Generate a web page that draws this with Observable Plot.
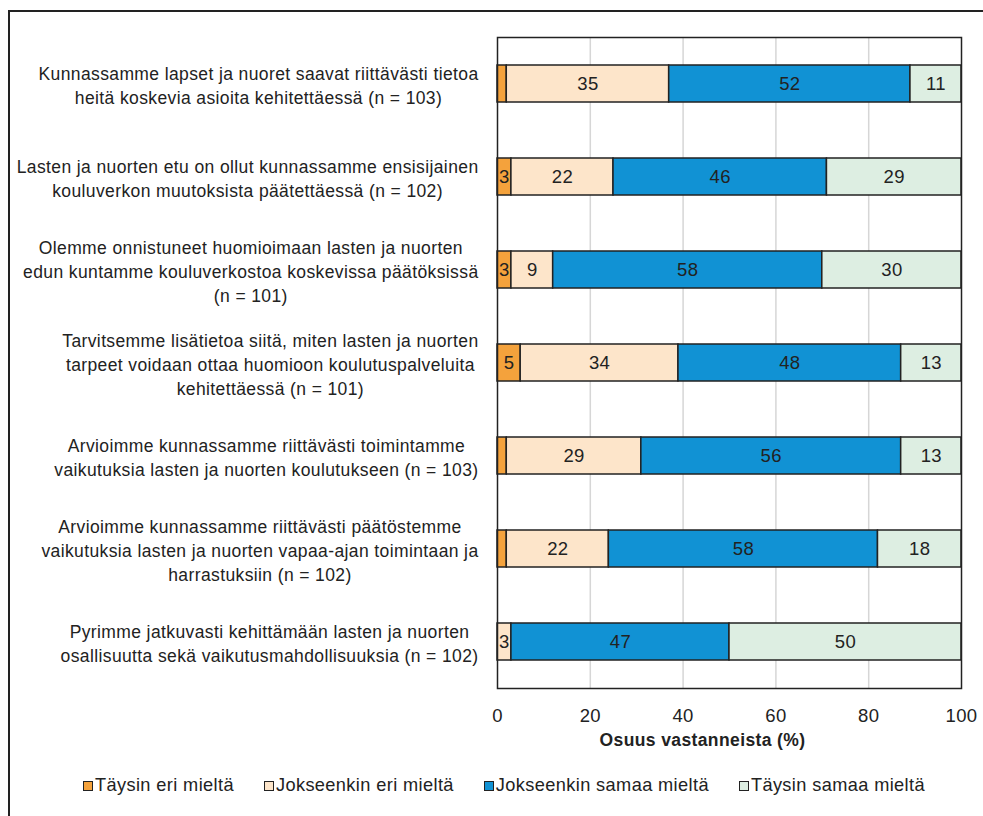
<!DOCTYPE html>
<html>
<head>
<meta charset="utf-8">
<script src="https://cdn.jsdelivr.net/npm/d3@7"></script>
<script src="https://cdn.jsdelivr.net/npm/@observablehq/plot@0.6"></script>
<style>
  html, body { margin: 0; padding: 0; background: #fff; }
  body { width: 983px; height: 816px; position: relative; overflow: hidden;
         font-family: "Liberation Sans", Arial, sans-serif; color: #222; }
  #frame { position: absolute; left: 8px; top: 10px; width: 990px; height: 820px;
           border-left: 2px solid #222; border-top: 2px solid #222; box-sizing: border-box; }
  #chart { position: absolute; left: 0; top: 0; }
  #legend { position: absolute; left: 0; top: 775px; width: 983px; display: flex; justify-content: center;
            padding-left: 25px; box-sizing: border-box; gap: 30px; }
  .item { display: flex; align-items: center; gap: 2px; }
  .sw { width: 8px; height: 8px; border: 1.5px solid #222; }
</style>
</head>
<body>
<div id="frame"></div>
<div id="chart"></div>
<div id="legend"></div>
<script>
const categories = [
  "Kunnassamme lapset ja nuoret saavat riittävästi tietoa\nheitä koskevia asioita kehitettäessä (n = 103)",
  "Lasten ja nuorten etu on ollut kunnassamme ensisijainen\nkouluverkon muutoksista päätettäessä (n = 102)",
  "Olemme onnistuneet huomioimaan lasten ja nuorten\nedun kuntamme kouluverkostoa koskevissa päätöksissä\n(n = 101)",
  "Tarvitsemme lisätietoa siitä, miten lasten ja nuorten\ntarpeet voidaan ottaa huomioon koulutuspalveluita\nkehitettäessä (n = 101)",
  "Arvioimme kunnassamme riittävästi toimintamme\nvaikutuksia lasten ja nuorten koulutukseen (n = 103)",
  "Arvioimme kunnassamme riittävästi päätöstemme\nvaikutuksia lasten ja nuorten vapaa-ajan toimintaan ja\nharrastuksiin (n = 102)",
  "Pyrimme jatkuvasti kehittämään lasten ja nuorten\nosallisuutta sekä vaikutusmahdollisuuksia (n = 102)"
];
const seriesNames = ["Täysin eri mieltä", "Jokseenkin eri mieltä", "Jokseenkin samaa mieltä", "Täysin samaa mieltä"];
const seriesColors = ["#F4A23C", "#FDE5CA", "#1192D4", "#DDEEE2"];
const taysinEri      = [2, 3, 3, 5, 2, 2, 0];
const jokseenkinEri  = [35, 22, 9, 34, 29, 22, 3];
const jokseenkinSama = [52, 46, 58, 48, 56, 58, 47];
const taysinSama     = [11, 29, 30, 13, 13, 18, 50];
const xTicks = [0, 20, 40, 60, 80, 100];
const gridTicks = [20, 40, 60, 80];
const xLabel = "Osuus vastanneista (%)";

const seriesValues = [taysinEri, jokseenkinEri, jokseenkinSama, taysinSama];
const data = [];
categories.forEach((c, i) => {
  seriesNames.forEach((s, j) => data.push({cat: c, series: s, value: seriesValues[j][i]}));
});

// Narrow-font emulation: regular sans with tightened letter spacing
const FONT = '"Liberation Sans", Arial, sans-serif';
const FS = 17.5;
const ctx = document.createElement("canvas").getContext("2d");
ctx.font = `${FS}px ${FONT}`;
const refLine = categories[0].split("\n")[0];
const LS = (440 - ctx.measureText(refLine).width) / refLine.length;
function lineWidth(l) { return ctx.measureText(l).width + LS * l.length; }
function blockWidth(s) { return Math.max(...s.split("\n").map(lineWidth)); }

const labelMarks = categories.map(c => Plot.text([c], {
  y: d => d, text: d => d, frameAnchor: "left", textAnchor: "middle",
  dx: -19 - blockWidth(c) / 2, lineHeight: 1.38, fontSize: FS, fill: "#222"
}));

const chart = Plot.plot({
  width: 983,
  height: 763,
  marginLeft: 497,
  marginRight: 22,
  marginTop: 37,
  marginBottom: 75,
  style: {fontFamily: FONT, fontSize: FS + "px", color: "#222", background: "transparent", letterSpacing: LS + "px"},
  x: {domain: [0, 100], ticks: xTicks, tickSize: 0, tickPadding: 20, label: null},
  y: {domain: categories, paddingInner: 0.6, paddingOuter: 0.3, axis: null},
  color: {domain: seriesNames, range: seriesColors},
  marks: [
    Plot.gridX(gridTicks, {stroke: "#d6d6d6", strokeOpacity: 1, strokeWidth: 1.5}),
    Plot.barX(data, Plot.stackX({x: "value", y: "cat", fill: "series", order: seriesNames,
      stroke: "#222", strokeWidth: 1.5})),
    Plot.text(data, Plot.stackX({x: "value", y: "cat", z: "series", order: seriesNames,
      text: d => d.value >= 3 ? String(d.value) : "", fill: "#222", fontSize: FS + 1})),
    ...labelMarks,
    Plot.frame({stroke: "#222", strokeWidth: 1.5}),
    Plot.axisX({ticks: xTicks, tickSize: 0, tickPadding: 20, fontSize: FS + 1, label: null}),
    Plot.text([xLabel], {frameAnchor: "bottom", dx: -27, dy: 57, fontWeight: "bold", fontSize: FS, fill: "#222"})
  ]
});
document.getElementById("chart").appendChild(chart);

const legend = document.getElementById("legend");
legend.style.fontSize = (FS + 0.7) + "px";
legend.style.letterSpacing = LS + "px";
seriesNames.forEach((s, i) => {
  const item = document.createElement("div");
  item.className = "item";
  const sw = document.createElement("div");
  sw.className = "sw";
  sw.style.background = seriesColors[i];
  const t = document.createElement("span");
  t.textContent = s;
  item.appendChild(sw); item.appendChild(t);
  legend.appendChild(item);
});
</script>
</body>
</html>
